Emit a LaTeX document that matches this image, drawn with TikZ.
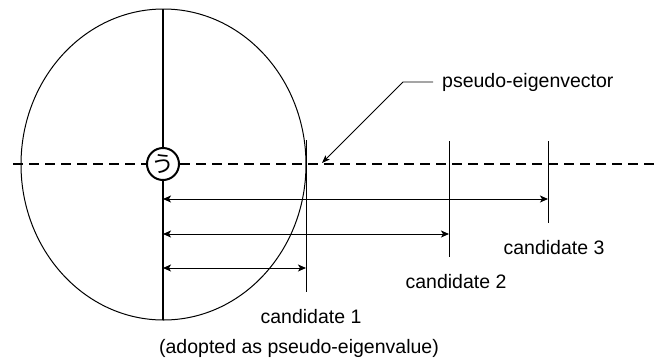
\documentclass[tikz,border=0pt]{standalone}
\usepackage{fontspec}
\setmainfont{Liberation Sans}
\newfontfamily\jpfont{Noto Sans CJK JP}
\usetikzlibrary{positioning,arrows.meta,calc}

\begin{document}
\begin{tikzpicture}[
          x=1pt, y=-1pt,
          lbl/.style={font=\fontsize{19.5}{23}\selectfont, inner sep=0pt},
          axis/.style={line width=2.5pt},
          dashaxis/.style={line width=2.5pt, dash pattern=on 10pt off 6pt},
          cand/.style={line width=1pt},
          dim/.style={line width=1pt, {Stealth[length=8pt,width=7pt,inset=2pt]}-{Stealth[length=8pt,width=7pt,inset=2pt]}},
          leader/.style={line width=0.8pt, -{Stealth[length=8pt,width=6pt,inset=2pt]}}
      ]
        \useasboundingbox (0,0) rectangle (657,360);
        % outer circle
        \draw[line width=1pt] (163.5,164.5) ellipse [x radius=142.5, y radius=155.5];
        % centre mark
        \node[circle, draw, line width=2pt, minimum size=32pt, inner sep=0pt, fill=white,
              font=\jpfont\fontsize{23}{23}\selectfont] (ctr) at (163,164) {う};
        \coordinate (top) at (163,9);
        \coordinate (bot) at (163,320);
        \coordinate (west) at (13,164);
        \coordinate (east) at (657,164);
        \draw[axis] (top) -- (ctr);
        \draw[axis] (ctr) -- (bot);
        \draw[dashaxis] (west) -- (ctr);
        \draw[dashaxis] (ctr) -- (east);
        % candidates
        \coordinate (k1t) at (306,140);
        \coordinate (k1b) at (306,292);
        \coordinate (k2t) at (449,141);
        \coordinate (k2b) at (449,257);
        \coordinate (k3t) at (548,141);
        \coordinate (k3b) at (548,223);
        \draw[cand] (k1t) -- (k1b);
        \draw[cand] (k2t) -- (k2b);
        \draw[cand] (k3t) -- (k3b);
        \coordinate (r3) at (163,199);
        \coordinate (r2) at (163,234);
        \coordinate (r1) at (163,268);
        \draw[dim] (r3) -- (r3 -| k3t);
        \draw[dim] (r2) -- (r2 -| k2t);
        \draw[dim] (r1) -- (r1 -| k1t);
        \node[lbl] (c3) at (554,248) {candidate 3};
        \node[lbl] (c2) at (456,282) {candidate 2};
        \node[lbl] (c1) at (311,317) {candidate 1};
        \node[lbl] (adopt) at (299,348) {(adopted as pseudo-eigenvalue)};
        % pseudo-eigenvector label
        \node[lbl, anchor=west] (pev) at (442,82) {pseudo-eigenvector};
        \coordinate (bend) at (403,82);
        \coordinate (tip) at (322,163);
        \draw[leader] ([xshift=-9pt]pev.west) -- (bend) -- (tip);
      \end{tikzpicture}
\end{document}
